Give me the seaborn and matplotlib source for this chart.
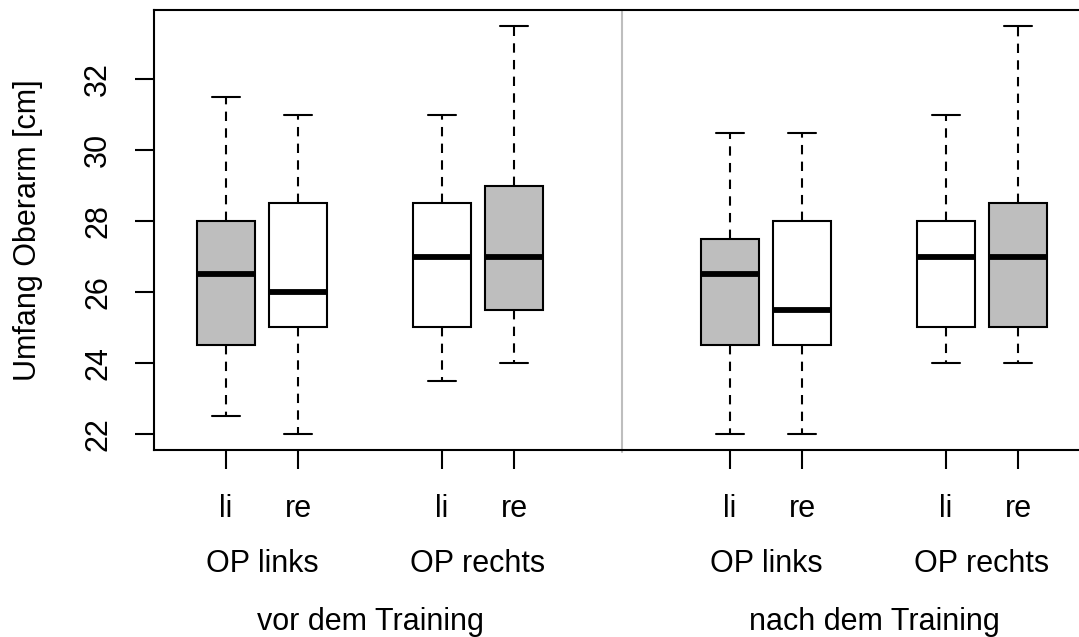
import numpy as np
import pandas as pd
import matplotlib
matplotlib.use("Agg")
import matplotlib.pyplot as plt
import seaborn as sns

# Kennwerte je Box (Umfang Oberarm in cm)
phase = ["vor", "vor", "vor", "vor", "nach", "nach", "nach", "nach"]
gruppe = ["OP links", "OP links", "OP rechts", "OP rechts"] * 2
seite = ["li", "re", "li", "re"] * 2
pos = [1, 2, 4, 5, 8, 9, 11, 12]
fuellung = ["grau", "weiss", "weiss", "grau"] * 2

w_min = [22.5, 22.0, 23.5, 24.0, 22.0, 22.0, 24.0, 24.0]
q1 = [24.5, 25.0, 25.0, 25.5, 24.5, 24.5, 25.0, 25.0]
median = [26.5, 26.0, 27.0, 27.0, 26.5, 25.5, 27.0, 27.0]
q3 = [28.0, 28.5, 28.5, 29.0, 27.5, 28.0, 28.0, 28.5]
w_max = [31.5, 31.0, 31.0, 33.5, 30.5, 30.5, 31.0, 33.5]

gruppen_labels = ["OP links", "OP rechts", "OP links", "OP rechts"]
gruppen_pos = [1.5, 4.5, 8.5, 11.5]
phasen_labels = ["vor dem Training", "nach dem Training"]
phasen_pos = [3, 10]

# 5 Werte pro Box -> Quartile liegen genau auf q1/median/q3
rows = []
for i in range(len(pos)):
    for v in (w_min[i], q1[i], median[i], q3[i], w_max[i]):
        rows.append({"pos": pos[i], "wert": v, "fill": fuellung[i]})
df = pd.DataFrame(rows)

sns.set_style("white", {"text.color": "black", "xtick.color": "black",
                        "ytick.color": "black", "axes.labelcolor": "black"})
plt.rcParams["font.family"] = ["Liberation Sans", "DejaVu Sans"]

fig = plt.figure(figsize=(10.79, 6.37), dpi=100)
ax_w = 13 * 72 / 1079
ax = fig.add_axes([154 / 1079, 1 - 450 / 637, ax_w, 440 / 637])

sns.boxplot(data=df, x="pos", y="wert", hue="fill", native_scale=True,
            palette={"grau": "#BEBEBE", "weiss": "white"}, dodge=False,
            width=0.8, whis=(0, 100), linecolor="black", linewidth=1.5,
            showfliers=False, legend=False, ax=ax,
            whiskerprops={"linestyle": (0, (4.5, 3.5))},
            medianprops={"linewidth": 4.2, "solid_capstyle": "butt"})

ax.set_xlim(0, 13)
ax.set_ylim(21.54, 33.96)

# Trennlinie zwischen vor/nach
ax.axvline(6.5, color="#BEBEBE", lw=1.5, clip_on=False, ymin=-0.005, ymax=1)

for s in ax.spines.values():
    s.set_linewidth(1.5)
    s.set_color("black")

ax.set_xticks(pos, seite)
ax.set_yticks([22, 24, 26, 28, 30, 32])
ax.set_yticklabels(["22", "24", "26", "28", "30", "32"], rotation=90, va="center")
ax.tick_params(axis="both", length=13.5, width=1.5, color="black", labelsize=22,
               labelcolor="black", direction="out", bottom=True, left=True)
ax.tick_params(axis="x", pad=18)
ax.tick_params(axis="y", pad=16)
ax.set_xlabel("")
ax.set_ylabel("")

trans = ax.get_xaxis_transform()
for g, p in zip(gruppen_labels, gruppen_pos):
    ax.text(p, -0.258, g, transform=trans, ha="center", va="center", fontsize=22)
for t, p in zip(phasen_labels, phasen_pos):
    ax.text(p, -0.39, t, transform=trans, ha="center", va="center", fontsize=22)

fig.text(28 / 1079, 1 - 230 / 637, "Umfang Oberarm [cm]", rotation=90,
         ha="center", va="center", fontsize=22)

fig.savefig("out.png", dpi=100)
